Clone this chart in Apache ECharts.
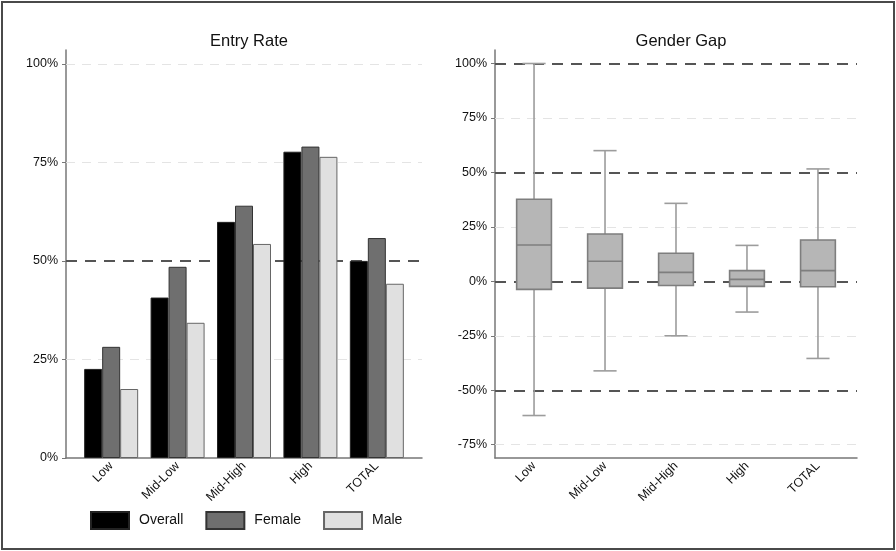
<!DOCTYPE html>
<html>
<head>
<meta charset="utf-8">
<script src="https://cdn.jsdelivr.net/npm/echarts@6/dist/echarts.min.js"></script>
<style>
  html, body { margin: 0; padding: 0; background: #fff; }
  #chart { width: 896px; height: 551px; }
</style>
</head>
<body>
<div id="chart"></div>
<script>
// Skill levels shown on both panels
const categories = ['Low', 'Mid-Low', 'Mid-High', 'High', 'TOTAL'];

// Entry rate (%) by group
const overallRate = [22.6, 40.7, 59.9, 77.7, 50.0];
const femaleRate  = [28.2, 48.5, 64.0, 79.0, 55.8];
const maleRate    = [17.5, 34.3, 54.3, 76.4, 44.2];

// Gender gap distribution (%): lower whisker, Q1, median, Q3, upper whisker
const gapLow    = [-61.6, -41.1, -25.0, -14.1, -35.4];
const gapQ1     = [-3.7, -3.1, -1.9, -2.3, -2.5];
const gapMedian = [16.7, 9.2, 4.1, 0.9, 4.9];
const gapQ3     = [37.7, 21.7, 12.9, 4.9, 19.0];
const gapHigh   = [100.0, 60.0, 35.8, 16.5, 51.6];

// Tick labels and reference lines
const rateTicks = [0, 25, 50, 75, 100];
const rateLightLines = [25, 75, 100];
const rateHeavyLines = [50];
const gapTicks = [-75, -50, -25, 0, 25, 50, 75, 100];
const gapLightLines = [-75, -25, 25, 75];
const gapHeavyLines = [-50, 0, 50, 100];

const FONT = '"Liberation Sans", Arial, Helvetica, sans-serif';
const catIdx = categories.map((_, i) => i);

const lightLine = { color: '#e4e4e4', width: 1, type: [9, 7] };
const heavyLine = { color: '#555', width: 2, type: [11, 8] };

function refLines(light, heavy) {
  return {
    silent: true,
    symbol: 'none',
    z: 1,
    label: { show: false },
    emphasis: { disabled: true },
    data: light.map(v => ({ yAxis: v, lineStyle: lightLine }))
      .concat(heavy.map(v => ({ yAxis: v, lineStyle: heavyLine })))
  };
}

const xAxisCommon = {
  type: 'value',
  axisLine: { show: true, onZero: false, lineStyle: { color: '#777', width: 1.5 } },
  axisTick: { show: false },
  splitLine: { show: false },
  axisLabel: {
    customValues: catIdx,
    formatter: v => categories[Math.round(v)] || '',
    rotate: 45,
    fontFamily: FONT,
    fontSize: 12.5,
    color: '#111',
    margin: 6
  }
};

const yAxisCommon = {
  type: 'value',
  axisLine: { show: true, onZero: false, lineStyle: { color: '#777', width: 1.5 } },
  splitLine: { show: false },
  axisLabel: {
    formatter: v => v + '%',
    fontFamily: FONT,
    fontSize: 12.5,
    color: '#111',
    margin: 8
  }
};

const chart = echarts.init(document.getElementById('chart'), null, { renderer: 'canvas' });

// Box-and-whisker drawn through the chart's own coordinate system
function renderBox(params, api) {
  const x = api.value(0);
  const lo = api.coord([x, api.value(1)]);
  const q1 = api.coord([x, api.value(2)]);
  const md = api.coord([x, api.value(3)]);
  const q3 = api.coord([x, api.value(4)]);
  const hi = api.coord([x, api.value(5)]);
  const unit = api.size([1, 0])[0];
  const hw = unit * 0.245;
  const cw = unit * 0.163;
  const whisker = { stroke: '#9c9c9c', lineWidth: 1.6 };
  const edge = { stroke: '#7e7e7e', lineWidth: 1.6 };
  return {
    type: 'group',
    children: [
      { type: 'line', shape: { x1: hi[0], y1: hi[1], x2: q3[0], y2: q3[1] }, style: whisker },
      { type: 'line', shape: { x1: lo[0], y1: lo[1], x2: q1[0], y2: q1[1] }, style: whisker },
      { type: 'line', shape: { x1: hi[0] - cw, y1: hi[1], x2: hi[0] + cw, y2: hi[1] }, style: whisker },
      { type: 'line', shape: { x1: lo[0] - cw, y1: lo[1], x2: lo[0] + cw, y2: lo[1] }, style: whisker },
      { type: 'rect', shape: { x: q3[0] - hw, y: q3[1], width: hw * 2, height: q1[1] - q3[1] },
        style: { fill: '#b6b6b6', stroke: '#7e7e7e', lineWidth: 1.6 } },
      { type: 'line', shape: { x1: md[0] - hw, y1: md[1], x2: md[0] + hw, y2: md[1] }, style: edge }
    ]
  };
}

const gapData = catIdx.map(i => [i, gapLow[i], gapQ1[i], gapMedian[i], gapQ3[i], gapHigh[i]]);

const barStyle = (fill, border) => ({ color: fill, borderColor: border, borderWidth: 1 });

chart.setOption({
  animation: false,
  backgroundColor: '#fff',
  textStyle: { fontFamily: FONT },
  graphic: [{
    type: 'rect',
    silent: true,
    shape: { x: 2, y: 2, width: 892, height: 547 },
    style: { fill: 'none', stroke: '#4a4a4a', lineWidth: 2 },
    z: 100
  }],
  title: [
    { text: 'Entry Rate', left: 244, top: 28, textAlign: 'center',
      textStyle: { fontFamily: FONT, fontSize: 16.5, fontWeight: 'normal', color: '#111' } },
    { text: 'Gender Gap', left: 676, top: 28, textAlign: 'center',
      textStyle: { fontFamily: FONT, fontSize: 16.5, fontWeight: 'normal', color: '#111' } }
  ],
  legend: {
    left: 90,
    top: 511,
    padding: 0,
    itemWidth: 38,
    itemHeight: 17,
    itemGap: 22,
    icon: 'rect',
    textStyle: { fontFamily: FONT, fontSize: 14, color: '#111', padding: [0, 0, 0, 5] },
    data: ['Overall', 'Female', 'Male']
  },
  grid: [
    { left: 66, top: 50, width: 356, height: 408 },
    { left: 495, top: 50, width: 362, height: 408 }
  ],
  xAxis: [
    Object.assign({}, xAxisCommon, { gridIndex: 0, min: -0.68, max: 4.68 }),
    Object.assign({}, xAxisCommon, { gridIndex: 1, min: -0.55, max: 4.55 })
  ],
  yAxis: [
    Object.assign({}, yAxisCommon, {
      gridIndex: 0, min: 0, max: 103.5,
      axisTick: { show: true, customValues: rateTicks, length: 4, lineStyle: { color: '#777' } },
      axisLabel: Object.assign({}, yAxisCommon.axisLabel, { customValues: rateTicks })
    }),
    Object.assign({}, yAxisCommon, {
      gridIndex: 1, min: -81.1, max: 106.2,
      axisTick: { show: true, customValues: gapTicks, length: 4, lineStyle: { color: '#777' } },
      axisLabel: Object.assign({}, yAxisCommon.axisLabel, { customValues: gapTicks })
    })
  ],
  series: [
    {
      name: 'Overall', type: 'bar', xAxisIndex: 0, yAxisIndex: 0, z: 2,
      barWidth: 18, barGap: '0%',
      itemStyle: barStyle('#000000', '#222'),
      data: catIdx.map(i => [i, overallRate[i]]),
      markLine: refLines(rateLightLines, rateHeavyLines)
    },
    {
      name: 'Female', type: 'bar', xAxisIndex: 0, yAxisIndex: 0, z: 2,
      barWidth: 18, barGap: '0%',
      itemStyle: barStyle('#6f6f6f', '#333'),
      data: catIdx.map(i => [i, femaleRate[i]])
    },
    {
      name: 'Male', type: 'bar', xAxisIndex: 0, yAxisIndex: 0, z: 2,
      barWidth: 18, barGap: '0%',
      itemStyle: barStyle('#e0e0e0', '#666'),
      data: catIdx.map(i => [i, maleRate[i]])
    },
    {
      name: 'Gender Gap', type: 'custom', xAxisIndex: 1, yAxisIndex: 1, z: 3,
      renderItem: renderBox,
      encode: { x: 0, y: [1, 2, 3, 4, 5] },
      data: gapData,
      markLine: refLines(gapLightLines, gapHeavyLines)
    }
  ]
});
</script>
</body>
</html>
